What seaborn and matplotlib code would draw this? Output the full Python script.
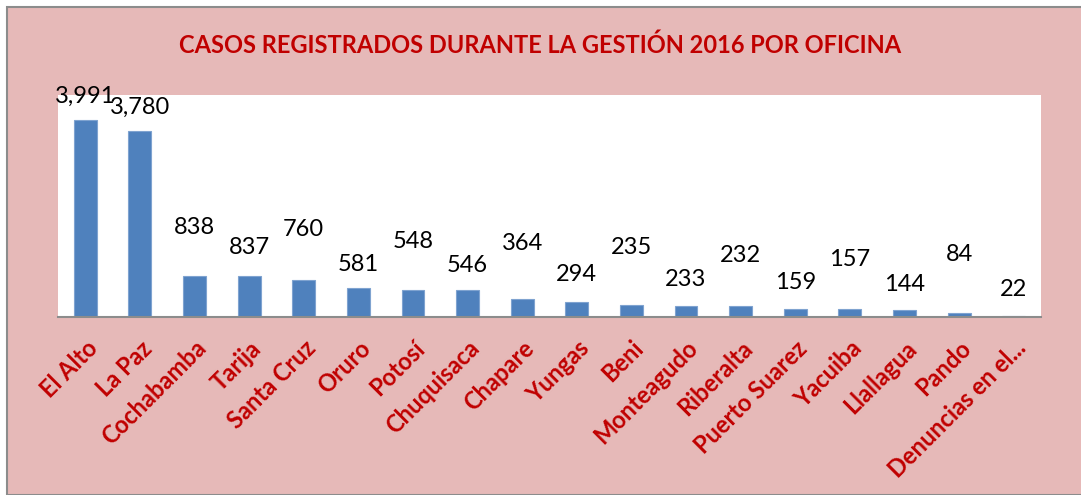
import matplotlib
matplotlib.use("Agg")
import matplotlib.pyplot as plt
import seaborn as sns
import pandas as pd
from matplotlib.patches import Rectangle

# Datos
oficinas = ['El Alto', 'La Paz', 'Cochabamba', 'Tarija', 'Santa Cruz', 'Oruro', 'Potosí',
            'Chuquisaca', 'Chapare', 'Yungas', 'Beni', 'Monteagudo', 'Riberalta',
            'Puerto Suarez', 'Yacuiba', 'Llallagua', 'Pando', 'Denuncias en el...']
casos = [3991, 3780, 838, 837, 760, 581, 548, 546, 364, 294, 235, 233, 232, 159, 157, 144, 84, 22]
# desplazamiento vertical de cada etiqueta (puntos)
desplaz = [17, 17, 35, 20, 36, 17, 35, 18, 40, 20, 42, 19, 36, 19, 36, 18, 42, 19]

df = pd.DataFrame({'Oficina': oficinas, 'Casos': casos})

rosa = '#E6B9B8'
rojo = '#C00000'
azul = '#4F81BD'

sns.set_theme(style="white")
plt.rcParams['font.family'] = ['Lato', 'DejaVu Sans']

fig = plt.figure(figsize=(10.81, 4.95), dpi=100)
fig.patch.set_facecolor('white')
fig.patches.append(Rectangle((7 / 1081, 0), 1.0, 1 - 7 / 495, transform=fig.transFigure,
                             facecolor=rosa, edgecolor='#8C8C8C', linewidth=1.5, zorder=-5))

ax = fig.add_axes([58 / 1081, 1 - 317 / 495, 983 / 1081, 222 / 495])
ax.set_facecolor('white')
sns.barplot(data=df, x='Oficina', y='Casos', color=azul, width=0.42, saturation=1,
            edgecolor='#7FA3D0', linewidth=0.8, ax=ax)
ax.set_xlim(-0.5, len(oficinas) - 0.5)
ax.set_ylim(0, 4500)
ax.set_yticks([])
ax.set_xlabel('')
ax.set_ylabel('')
for s in ['top', 'right', 'left']:
    ax.spines[s].set_visible(False)
ax.spines['bottom'].set_color('#8C8C8C')
ax.spines['bottom'].set_linewidth(1.5)

for i, (v, d) in enumerate(zip(casos, desplaz)):
    ax.annotate(f'{v:,}', (i, v), xytext=(0, d), textcoords='offset points',
                ha='center', va='center', fontsize=17, color='black', annotation_clip=False)

ax.tick_params(axis='x', length=0, pad=14)
plt.setp(ax.get_xticklabels(), rotation=45, ha='right', rotation_mode='anchor',
         fontsize=17, fontweight='bold', color=rojo)

fig.text(0.5, 1 - 45 / 495, 'CASOS REGISTRADOS DURANTE LA GESTIÓN 2016 POR OFICINA',
         ha='center', va='center', fontsize=17, fontweight='bold', color=rojo)

fig.savefig('out.png', dpi=100)
